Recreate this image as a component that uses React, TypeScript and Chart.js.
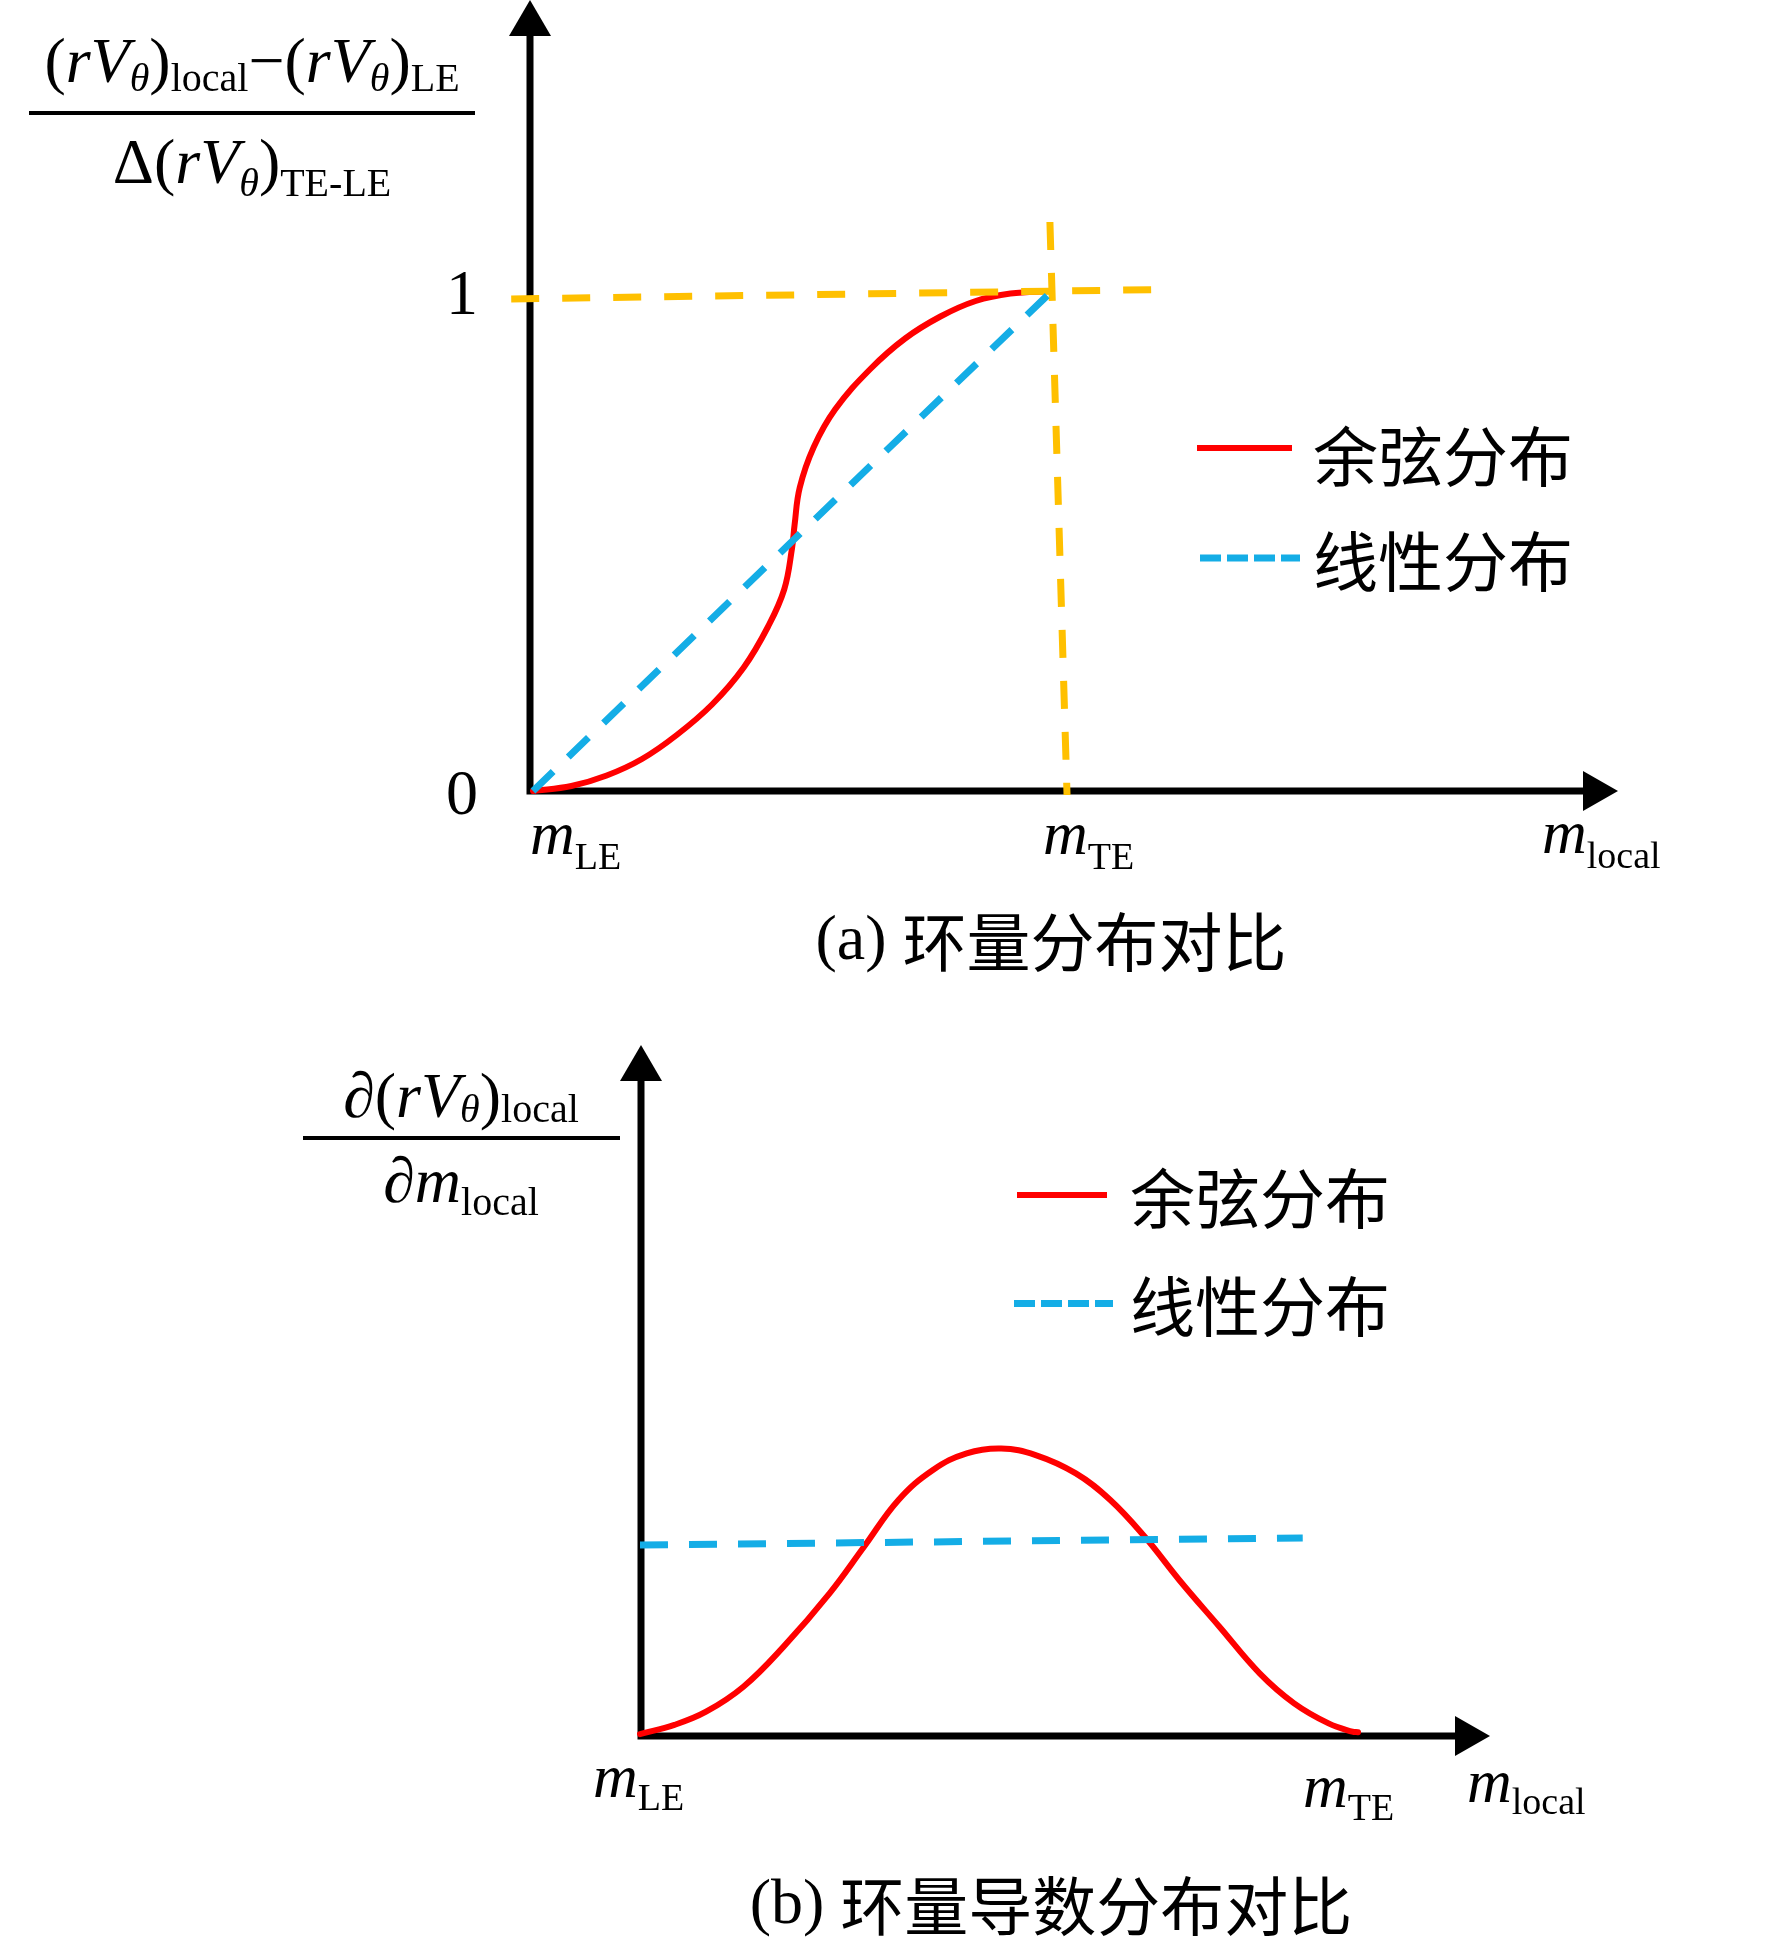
import { useEffect, useRef } from 'react';
import { Chart, registerables } from 'chart.js';

Chart.register(...registerables);

const SERIF = '"Liberation Serif", "Times New Roman", serif';
const CJK = '"Noto Sans CJK SC", sans-serif';
const RED = '#FF0000';
const BLUE = '#14ADE6';
const ORANGE = '#FFC000';

const seriesNames = ['余弦分布', '线性分布'];

// (a) normalised circulation, x in m_LE..m_TE
const cosXA = [0, 0.074, 0.142, 0.21, 0.277, 0.345, 0.406, 0.453, 0.484, 0.499, 0.504, 0.514, 0.541, 0.582, 0.65, 0.717, 0.785, 0.853, 0.92, 1.0];
const cosYA = [0, 0.01, 0.031, 0.064, 0.112, 0.173, 0.247, 0.329, 0.403, 0.485, 0.532, 0.607, 0.688, 0.763, 0.844, 0.905, 0.949, 0.98, 0.995, 1.0];
const linXA = [0, 1];
const linYA = [0, 1];
// hand drawn orange guides through (m_TE, 1)
const guideHX = [-0.042, 1.214];
const guideHY = [0.984, 1.003];
const guideVX = [0.996, 1.029];
const guideVY = [1.138, -0.008];
const yTickA = [0, 1];
const yTickLabelA = ['0', '1'];

// (b) derivative of circulation
const cosXB = [0, 0.048, 0.092, 0.144, 0.2, 0.264, 0.312, 0.36, 0.408, 0.455, 0.503, 0.551, 0.607, 0.655, 0.703, 0.751, 0.807, 0.863, 0.911, 0.959, 0.992, 1.0];
const cosYB = [0.01, 0.058, 0.127, 0.258, 0.468, 0.747, 0.991, 1.236, 1.393, 1.48, 1.505, 1.471, 1.375, 1.236, 1.043, 0.817, 0.572, 0.328, 0.171, 0.066, 0.023, 0.02];
const linXB = [0, 0.923];
const linYB = [1.0, 1.037];

const xMarks = [0, 1];
const xMarkSubs = ['LE', 'TE'];

type Run = { t: string; s: number; i?: boolean; dy?: number; cjk?: boolean };

const pts = (xs: number[], ys: number[]) => xs.map((x, i) => ({ x, y: ys[i] }));

function fontOf(r: Run) {
  return `${r.i ? 'italic ' : ''}${r.s}px ${r.cjk ? CJK : SERIF}`;
}

function drawRuns(ctx: CanvasRenderingContext2D, runs: Run[], x: number, y: number, align = 'left') {
  ctx.save();
  ctx.fillStyle = '#000';
  ctx.textAlign = 'left';
  let w = 0;
  for (const r of runs) {
    ctx.font = fontOf(r);
    w += ctx.measureText(r.t).width;
  }
  let cx = align === 'center' ? x - w / 2 : x;
  for (const r of runs) {
    ctx.font = fontOf(r);
    ctx.fillText(r.t, cx, y + (r.dy ?? 0));
    cx += ctx.measureText(r.t).width;
  }
  ctx.restore();
}

const rV = (dy: number): Run[] => [
  { t: '(', s: 64 },
  { t: 'r', s: 64, i: true },
  { t: 'V', s: 64, i: true },
  { t: 'θ', s: 40, i: true, dy },
  { t: ')', s: 64 },
];

const mSub = (sub: string, dy: number): Run[] => [
  { t: 'm', s: 62, i: true },
  { t: sub, s: 38, dy },
];

function drawAxes(chart: any, dx: number) {
  const { ctx, chartArea: a, scales } = chart;
  const x0 = scales.x.getPixelForValue(0) + dx;
  const y0 = scales.y.getPixelForValue(0);
  ctx.save();
  ctx.strokeStyle = '#000';
  ctx.fillStyle = '#000';
  ctx.lineWidth = 7;
  ctx.beginPath();
  ctx.moveTo(x0 - 3.5, y0);
  ctx.lineTo(a.right - 30, y0);
  ctx.moveTo(x0, y0 + 3.5);
  ctx.lineTo(x0, a.top + 30);
  ctx.stroke();
  ctx.beginPath();
  ctx.moveTo(a.right, y0);
  ctx.lineTo(a.right - 35, y0 - 20);
  ctx.lineTo(a.right - 35, y0 + 20);
  ctx.closePath();
  ctx.fill();
  ctx.beginPath();
  ctx.moveTo(x0, a.top);
  ctx.lineTo(x0 - 21, a.top + 36);
  ctx.lineTo(x0 + 21, a.top + 36);
  ctx.closePath();
  ctx.fill();
  ctx.restore();
}

function drawLegend(chart: any, lg: any) {
  const ctx = chart.ctx;
  chart.data.datasets.slice(0, 2).forEach((ds: any, i: number) => {
    ctx.save();
    ctx.strokeStyle = ds.borderColor;
    ctx.lineWidth = ds.borderWidth;
    ctx.setLineDash(i === 1 ? [21, 6] : []);
    ctx.beginPath();
    ctx.moveTo(lg.x0[i], lg.ly[i]);
    ctx.lineTo(lg.x1[i], lg.ly[i]);
    ctx.stroke();
    ctx.restore();
    ctx.save();
    ctx.textBaseline = 'middle';
    drawRuns(ctx, [{ t: ds.label, s: 65, cjk: true }], lg.tx, lg.ty[i]);
    ctx.restore();
  });
}

function line(label: string, data: any, color: string, width: number, extra: any = {}) {
  return {
    label,
    data,
    borderColor: color,
    borderWidth: width,
    pointRadius: 0,
    fill: false,
    tension: 0,
    clip: false,
    borderCapStyle: 'butt',
    ...extra,
  };
}

const panelA = {
  height: 1000,
  pad: { left: 533, right: 154, top: 0, bottom: 209 },
  xMax: 2.0906,
  yMax: 1.582,
  axisDx: -3,
  datasets: [
    line(seriesNames[0], pts(cosXA, cosYA), RED, 6, { tension: 0.4, borderCapStyle: 'round', order: 3 }),
    line(seriesNames[1], pts(linXA, linYA), BLUE, 7, { borderDash: [28, 21], order: 1 }),
    line('guideH', pts(guideHX, guideHY), ORANGE, 7, { borderDash: [28, 23], order: 2 }),
    line('guideV', pts(guideVX, guideVY), ORANGE, 7, { borderDash: [28, 23], order: 2 }),
  ],
  legend: { x0: [1197, 1200], x1: [1292, 1300], ly: [448, 558], tx: 1313, ty: [456, 561] },
  labels(chart: any) {
    const { ctx, scales, chartArea: a } = chart;
    ctx.save();
    ctx.textBaseline = 'alphabetic';
    drawRuns(ctx, [...rV(9), { t: 'local', s: 40, dy: 9 }, { t: '−', s: 64 }, ...rV(9), { t: 'LE', s: 40, dy: 9 }], 252, 82, 'center');
    drawRuns(ctx, [{ t: 'Δ', s: 64 }, ...rV(13), { t: 'TE-LE', s: 40, dy: 13 }], 252, 183, 'center');
    ctx.fillStyle = '#000';
    ctx.fillRect(29, 111, 446, 4);
    const xo = [-3, -9];
    xMarks.forEach((v, i) => drawRuns(ctx, mSub(xMarkSubs[i], 15), scales.x.getPixelForValue(v) + xo[i], 854));
    drawRuns(ctx, mSub('local', 15), a.right - 76, 853);
    ctx.textBaseline = 'middle';
    yTickA.forEach((v, i) => drawRuns(ctx, [{ t: yTickLabelA[i], s: 64 }], 462, scales.y.getPixelForValue(v) + 6, 'center'));
    drawRuns(ctx, [{ t: '(a) ', s: 64 }, { t: '环量分布对比', s: 64, cjk: true }], 1051, 942, 'center');
    ctx.restore();
  },
};

const panelB = {
  height: 942,
  pad: { left: 640, right: 282, top: 45, bottom: 206 },
  xMax: 1.1838,
  yMax: 3.618,
  axisDx: 1,
  datasets: [
    line(seriesNames[0], pts(cosXB, cosYB), RED, 6, { tension: 0.4, borderCapStyle: 'round', order: 2 }),
    line(seriesNames[1], pts(linXB, linYB), BLUE, 7, { borderDash: [28, 21], order: 1 }),
  ],
  legend: { x0: [1017, 1014], x1: [1107, 1113], ly: [195, 303.5], tx: 1130, ty: [198, 306.5] },
  labels(chart: any) {
    const { ctx, scales, chartArea: a } = chart;
    ctx.save();
    ctx.textBaseline = 'alphabetic';
    drawRuns(ctx, [{ t: '∂', s: 64 }, ...rV(5), { t: 'local', s: 40, dy: 5 }], 461, 117, 'center');
    drawRuns(ctx, [{ t: '∂', s: 64 }, { t: 'm', s: 64, i: true }, { t: 'local', s: 40, dy: 13 }], 461, 202, 'center');
    ctx.fillStyle = '#000';
    ctx.fillRect(303, 136, 317, 4);
    const xo = [-47, -55];
    const yb = [797, 807];
    xMarks.forEach((v, i) => drawRuns(ctx, mSub(xMarkSubs[i], 13), scales.x.getPixelForValue(v) + xo[i], yb[i]));
    drawRuns(ctx, mSub('local', 12), a.right - 23, 802);
    ctx.textBaseline = 'middle';
    drawRuns(ctx, [{ t: '(b) ', s: 64 }, { t: '环量导数分布对比', s: 64, cjk: true }], 1051, 906, 'center');
    ctx.restore();
  },
};

function Panel({ spec }: { spec: any }) {
  const canvasRef = useRef<HTMLCanvasElement>(null);
  const chartRef = useRef<Chart | null>(null);

  useEffect(() => {
    if (!canvasRef.current) return;
    if (chartRef.current) chartRef.current.destroy();

    chartRef.current = new Chart(canvasRef.current, {
      type: 'line',
      data: { datasets: spec.datasets },
      options: {
        responsive: false,
        animation: false,
        devicePixelRatio: 1,
        events: [],
        layout: { padding: spec.pad },
        scales: {
          x: { type: 'linear', min: 0, max: spec.xMax, display: false },
          y: { type: 'linear', min: 0, max: spec.yMax, display: false },
        },
        plugins: { legend: { display: false }, tooltip: { enabled: false } },
      },
      plugins: [
        { id: 'arrowAxes', beforeDatasetsDraw: (c: any) => drawAxes(c, spec.axisDx) },
        {
          id: 'figureText',
          afterDraw: (c: any) => {
            drawLegend(c, spec.legend);
            spec.labels(c);
          },
        },
      ],
    } as any);

    return () => {
      if (chartRef.current) {
        chartRef.current.destroy();
        chartRef.current = null;
      }
    };
  }, [spec]);

  return <canvas ref={canvasRef} width={1772} height={spec.height} style={{ display: 'block' }} />;
}

export default function App() {
  return (
    <div style={{ position: 'absolute', left: 0, top: 0, width: 1772, height: 1942, background: '#fff' }}>
      <Panel spec={panelA} />
      <Panel spec={panelB} />
    </div>
  );
}
